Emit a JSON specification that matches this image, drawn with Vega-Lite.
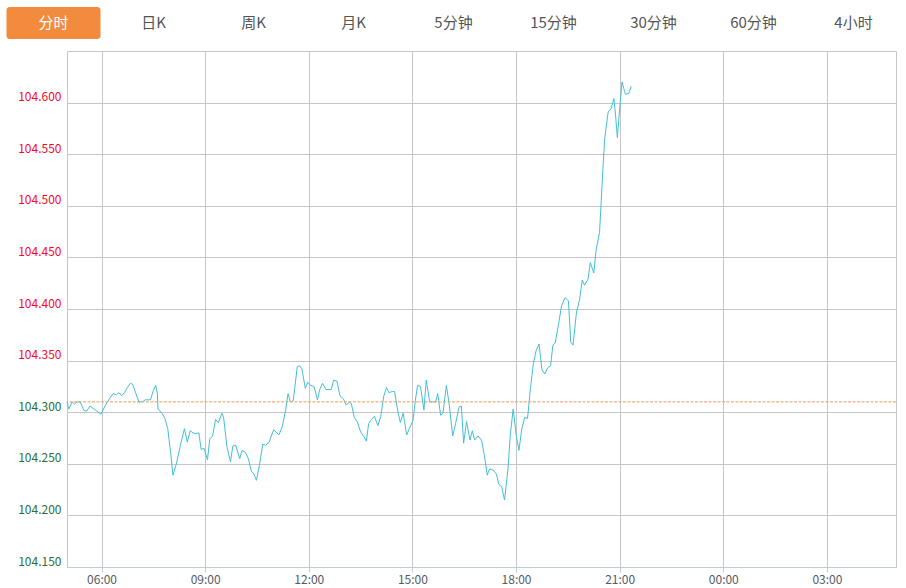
{
  "$schema": "https://vega.github.io/schema/vega-lite/v6.json",
  "padding": {"left": 3, "top": 7, "right": 0, "bottom": 0},
  "background": "white",
  "spacing": 11,
  "config": {
    "view": {"stroke": null},
    "font": "Noto Sans CJK SC"
  },
  "vconcat": [
    {
      "width": 836,
      "height": 32,
      "data": {"values": [
        {"tab": "分时", "active": true},
        {"tab": "日K", "active": false},
        {"tab": "周K", "active": false},
        {"tab": "月K", "active": false},
        {"tab": "5分钟", "active": false},
        {"tab": "15分钟", "active": false},
        {"tab": "30分钟", "active": false},
        {"tab": "60分钟", "active": false},
        {"tab": "4小时", "active": false}
      ]},
      "encoding": {
        "x": {
          "field": "tab", "type": "nominal",
          "scale": {"domain": ["分时","日K","周K","月K","5分钟","15分钟","30分钟","60分钟","4小时"], "range": [-63.5, 836.5], "paddingInner": 0.06, "paddingOuter": 0.03},
          "axis": null
        }
      },
      "layer": [
        {
          "transform": [{"filter": "datum.active"}],
          "mark": {"type": "rect", "color": "#f28b3d", "cornerRadius": 3}
        },
        {
          "mark": {"type": "text", "fontSize": 15, "font": "Noto Sans CJK SC"},
          "encoding": {
            "text": {"field": "tab", "type": "nominal"},
            "color": {"condition": {"test": "datum.active", "value": "#ffffff"}, "value": "#555555"}
          }
        }
      ]
    },
    {
      "width": 829,
      "height": 516,
      "view": {"stroke": "#c6c6c6"},
      "layer": [
        {
          "data": {"values": [
            {"m": 0, "p": 104.310}, {"m": 3, "p": 104.303}, {"m": 9, "p": 104.310}, {"m": 13, "p": 104.308},
            {"m": 18, "p": 104.310}, {"m": 23, "p": 104.310}, {"m": 29, "p": 104.302}, {"m": 34, "p": 104.301},
            {"m": 40, "p": 104.306}, {"m": 47, "p": 104.303}, {"m": 52, "p": 104.301}, {"m": 59, "p": 104.298},
            {"m": 67, "p": 104.307}, {"m": 76, "p": 104.315}, {"m": 80, "p": 104.318}, {"m": 86, "p": 104.317},
            {"m": 90, "p": 104.319}, {"m": 95, "p": 104.316}, {"m": 100, "p": 104.319}, {"m": 105, "p": 104.324},
            {"m": 110, "p": 104.328}, {"m": 114, "p": 104.327}, {"m": 119, "p": 104.319}, {"m": 125, "p": 104.310},
            {"m": 131, "p": 104.310}, {"m": 136, "p": 104.312}, {"m": 145, "p": 104.312}, {"m": 150, "p": 104.321},
            {"m": 154, "p": 104.326}, {"m": 157, "p": 104.318}, {"m": 158, "p": 104.303}, {"m": 165, "p": 104.299},
            {"m": 170, "p": 104.294}, {"m": 175, "p": 104.284}, {"m": 180, "p": 104.261}, {"m": 184, "p": 104.239},
            {"m": 190, "p": 104.250}, {"m": 197, "p": 104.268}, {"m": 204, "p": 104.284}, {"m": 209, "p": 104.271},
            {"m": 214, "p": 104.282}, {"m": 219, "p": 104.280}, {"m": 223, "p": 104.279}, {"m": 229, "p": 104.280},
            {"m": 233, "p": 104.264}, {"m": 238, "p": 104.265}, {"m": 244, "p": 104.254}, {"m": 248, "p": 104.274},
            {"m": 253, "p": 104.277}, {"m": 258, "p": 104.293}, {"m": 263, "p": 104.290}, {"m": 269, "p": 104.299},
            {"m": 272, "p": 104.295}, {"m": 278, "p": 104.266}, {"m": 284, "p": 104.252}, {"m": 288, "p": 104.267},
            {"m": 293, "p": 104.268}, {"m": 300, "p": 104.255}, {"m": 304, "p": 104.263}, {"m": 310, "p": 104.261},
            {"m": 315, "p": 104.255}, {"m": 320, "p": 104.243}, {"m": 325, "p": 104.240}, {"m": 329, "p": 104.234},
            {"m": 334, "p": 104.248}, {"m": 340, "p": 104.269}, {"m": 345, "p": 104.268}, {"m": 351, "p": 104.271},
            {"m": 359, "p": 104.283}, {"m": 368, "p": 104.278}, {"m": 374, "p": 104.286}, {"m": 380, "p": 104.303},
            {"m": 384, "p": 104.318}, {"m": 388, "p": 104.310}, {"m": 393, "p": 104.311}, {"m": 400, "p": 104.344},
            {"m": 404, "p": 104.345}, {"m": 408, "p": 104.342}, {"m": 414, "p": 104.323}, {"m": 418, "p": 104.329},
            {"m": 423, "p": 104.326}, {"m": 429, "p": 104.325}, {"m": 435, "p": 104.312}, {"m": 439, "p": 104.322},
            {"m": 444, "p": 104.328}, {"m": 450, "p": 104.322}, {"m": 459, "p": 104.322}, {"m": 463, "p": 104.331},
            {"m": 469, "p": 104.330}, {"m": 474, "p": 104.316}, {"m": 480, "p": 104.313}, {"m": 485, "p": 104.307},
            {"m": 491, "p": 104.310}, {"m": 494, "p": 104.308}, {"m": 499, "p": 104.295}, {"m": 504, "p": 104.291},
            {"m": 510, "p": 104.281}, {"m": 516, "p": 104.276}, {"m": 520, "p": 104.272}, {"m": 524, "p": 104.289},
            {"m": 529, "p": 104.293}, {"m": 534, "p": 104.296}, {"m": 540, "p": 104.287}, {"m": 545, "p": 104.296},
            {"m": 550, "p": 104.315}, {"m": 555, "p": 104.324}, {"m": 559, "p": 104.319}, {"m": 565, "p": 104.320},
            {"m": 569, "p": 104.320}, {"m": 575, "p": 104.300}, {"m": 579, "p": 104.290}, {"m": 584, "p": 104.299},
            {"m": 590, "p": 104.278}, {"m": 597, "p": 104.287}, {"m": 601, "p": 104.292}, {"m": 605, "p": 104.311},
            {"m": 609, "p": 104.326}, {"m": 614, "p": 104.325}, {"m": 620, "p": 104.302}, {"m": 624, "p": 104.331},
            {"m": 630, "p": 104.310}, {"m": 635, "p": 104.310}, {"m": 640, "p": 104.310}, {"m": 644, "p": 104.318},
            {"m": 649, "p": 104.297}, {"m": 653, "p": 104.299}, {"m": 659, "p": 104.326}, {"m": 664, "p": 104.307},
            {"m": 670, "p": 104.277}, {"m": 675, "p": 104.289}, {"m": 681, "p": 104.305}, {"m": 685, "p": 104.306},
            {"m": 689, "p": 104.270}, {"m": 694, "p": 104.291}, {"m": 700, "p": 104.273}, {"m": 704, "p": 104.282},
            {"m": 708, "p": 104.273}, {"m": 714, "p": 104.277}, {"m": 720, "p": 104.273}, {"m": 725, "p": 104.258},
            {"m": 730, "p": 104.239}, {"m": 734, "p": 104.245}, {"m": 740, "p": 104.244}, {"m": 746, "p": 104.240},
            {"m": 750, "p": 104.230}, {"m": 755, "p": 104.228}, {"m": 760, "p": 104.215}, {"m": 766, "p": 104.245},
            {"m": 770, "p": 104.278}, {"m": 775, "p": 104.303}, {"m": 780, "p": 104.279}, {"m": 785, "p": 104.263},
            {"m": 790, "p": 104.284}, {"m": 795, "p": 104.295}, {"m": 800, "p": 104.294}, {"m": 805, "p": 104.323},
            {"m": 810, "p": 104.347}, {"m": 815, "p": 104.360}, {"m": 820, "p": 104.366}, {"m": 825, "p": 104.341},
            {"m": 830, "p": 104.337}, {"m": 835, "p": 104.343}, {"m": 840, "p": 104.345}, {"m": 844, "p": 104.365},
            {"m": 848, "p": 104.367}, {"m": 854, "p": 104.386}, {"m": 859, "p": 104.403}, {"m": 865, "p": 104.411},
            {"m": 871, "p": 104.408}, {"m": 875, "p": 104.368}, {"m": 879, "p": 104.365}, {"m": 885, "p": 104.397},
            {"m": 890, "p": 104.408}, {"m": 895, "p": 104.428}, {"m": 899, "p": 104.423}, {"m": 905, "p": 104.429},
            {"m": 909, "p": 104.445}, {"m": 915, "p": 104.435}, {"m": 919, "p": 104.457}, {"m": 925, "p": 104.474},
            {"m": 928, "p": 104.505}, {"m": 931, "p": 104.537}, {"m": 934, "p": 104.565}, {"m": 940, "p": 104.591},
            {"m": 945, "p": 104.594}, {"m": 950, "p": 104.604}, {"m": 953, "p": 104.587}, {"m": 956, "p": 104.566},
            {"m": 960, "p": 104.594}, {"m": 964, "p": 104.620}, {"m": 970, "p": 104.608}, {"m": 976, "p": 104.609},
            {"m": 980, "p": 104.616}
          ]},
          "mark": {"type": "line", "color": "#41bfd8", "strokeWidth": 1},
          "encoding": {
            "x": {
              "field": "m", "type": "quantitative",
              "scale": {"domain": [0, 1440], "nice": false, "zero": false},
              "axis": {
                "title": null,
                "values": [60, 240, 420, 600, 780, 960, 1140, 1320],
                "labelExpr": "(((datum.value / 60 + 5) % 24) < 10 ? '0' : '') + ((datum.value / 60 + 5) % 24) + ':00'",
                "grid": true, "gridColor": "#c6c6c6", "gridWidth": 1,
                "domainColor": "#bfcbd8", "tickColor": "#bfcbd8", "tickSize": 5,
                "labelColor": "#555a66", "labelFontSize": 12, "labelFont": "Noto Sans CJK SC",
                "labelPadding": 2, "labelFlush": false
              }
            },
            "y": {
              "field": "p", "type": "quantitative",
              "scale": {"domain": [104.15, 104.65], "nice": false, "zero": false},
              "axis": {
                "title": null,
                "values": [104.15, 104.2, 104.25, 104.3, 104.35, 104.4, 104.45, 104.5, 104.55, 104.6],
                "format": ".3f",
                "grid": true, "gridColor": "#c6c6c6", "gridWidth": 1,
                "domain": false, "ticks": false,
                "labelPadding": 6, "labelFontSize": 12, "labelFont": "Noto Sans CJK SC",
                "labelBaseline": "alphabetic", "labelOffset": -2,
                "minExtent": 63.5, "maxExtent": 63.5,
                "labelColor": {"condition": {"test": "datum.value > 104.31", "value": "#f5071f"}, "value": "#2a6e3c"}
              }
            }
          }
        },
        {
          "data": {"values": [{"prevClose": 104.31}]},
          "mark": {"type": "rule", "color": "#ef9a5e", "strokeWidth": 1, "strokeDash": [3, 1.5]},
          "encoding": {
            "y": {"field": "prevClose", "type": "quantitative"}
          }
        }
      ]
    }
  ]
}
